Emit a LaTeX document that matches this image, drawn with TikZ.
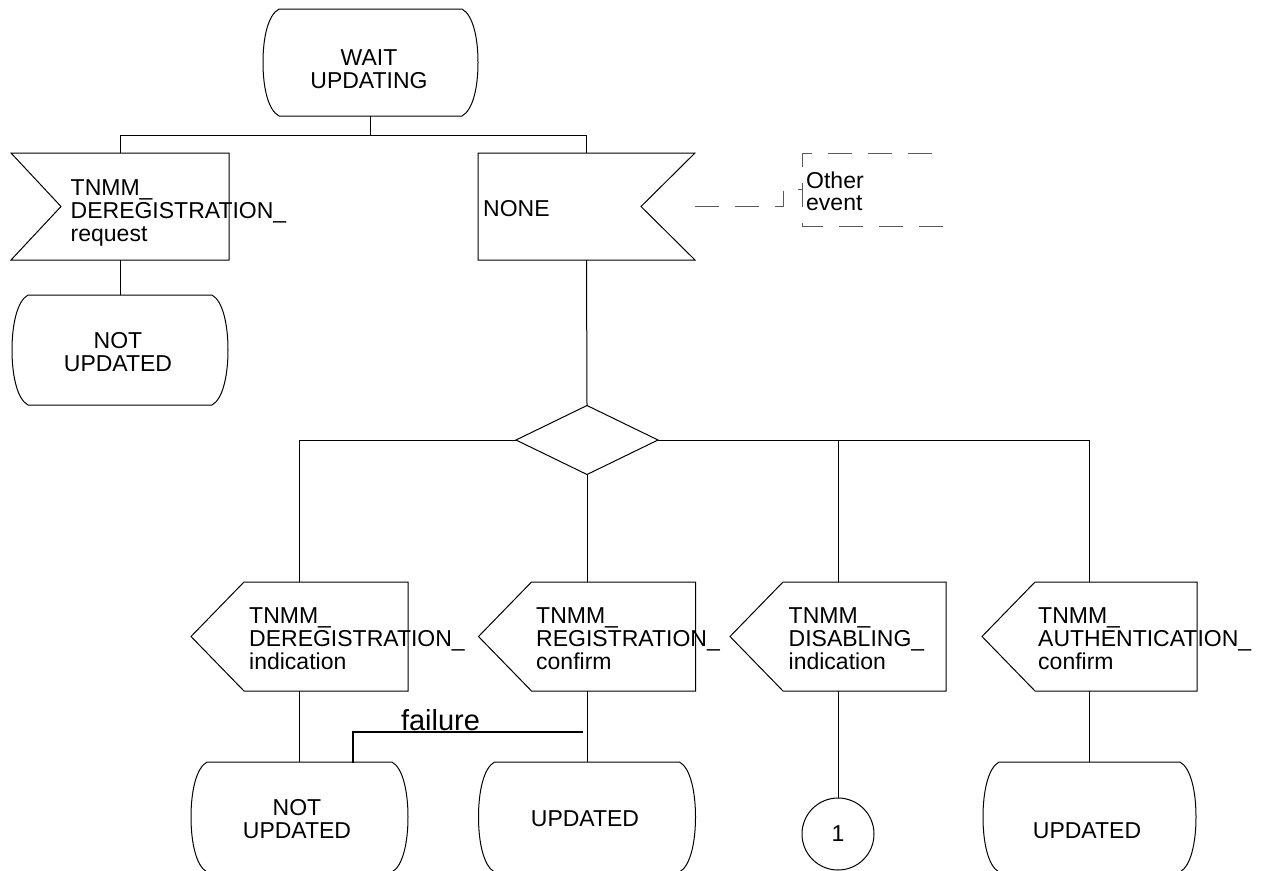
\documentclass[tikz,border=0pt]{standalone}
\usepackage{fontspec}
\setmainfont{Liberation Sans}
\usetikzlibrary{calc}
\tikzset{
  ln/.style={line width=1pt, line join=miter},
  body/.style={draw=none, inner sep=0pt, outer sep=0pt},
  lbl/.style={font=\fontsize{23pt}{23pt}\selectfont, inner sep=0pt, align=left, anchor=base west},
  clbl/.style={font=\fontsize{23pt}{23pt}\selectfont, inner sep=0pt, align=center, anchor=base},
  flbl/.style={font=\fontsize{29pt}{29pt}\selectfont, inner sep=0pt, anchor=base},
  dsh/.style={line width=1pt, draw=black!65, dash pattern=on 24pt off 16pt},
  fail/.style={line width=2.5pt},
}
\newcommand\drawstate[1]{%
  \draw[ln] ($(#1.north west)+(16,0)$) -- ($(#1.north east)+(-16,0)$)
    .. controls ($(#1.north east)+(-5,6)$) and ($(#1.east)+(0,-25)$) .. (#1.east)
    .. controls ($(#1.east)+(0,25)$) and ($(#1.south east)+(-5,-6)$) .. ($(#1.south east)+(-16,0)$)
    -- ($(#1.south west)+(16,0)$)
    .. controls ($(#1.south west)+(5,-6)$) and ($(#1.west)+(0,25)$) .. (#1.west)
    .. controls ($(#1.west)+(0,-25)$) and ($(#1.north west)+(5,6)$) .. cycle;}
\newcommand\drawinleft[2]{%
  \draw[ln] (#1.north west) -- (#1.north east) -- (#1.south east) -- (#1.south west)
    -- ($(#1.west)+(#2,0)$) -- cycle;}
\newcommand\drawinright[2]{%
  \draw[ln] (#1.north west) -- (#1.north east) -- ($(#1.east)+(-#2,0)$)
    -- (#1.south east) -- (#1.south west) -- cycle;}
\newcommand\drawout[1]{%
  \draw[ln] ($(#1.north west)+(53,0)$) -- (#1.north east) -- (#1.south east)
    -- ($(#1.south west)+(53,0)$) -- (#1.west) -- cycle;}
\begin{document}
\begin{tikzpicture}[x=1pt,y=-1pt]
\useasboundingbox (0,0) rectangle (1271,870);
\fill[white] (0,0) rectangle (1271,870);
\clip (0,0) rectangle (1271,870);

% bodies
\node[body, minimum width=215pt, minimum height=107pt] (wait) at (370.5,62.5) {};
\node[body, minimum width=218pt, minimum height=107pt] (in1) at (120,206.5) {};
\node[body, minimum width=217pt, minimum height=107pt] (in2) at (586.5,206.5) {};
\node[body, minimum width=216pt, minimum height=110pt] (st1) at (120,350) {};
\node[body, minimum width=142pt, minimum height=69pt] (dec) at (587,440) {};
\node[body, minimum width=217pt, minimum height=109pt] (out1) at (299.5,636.5) {};
\node[body, minimum width=217pt, minimum height=109pt] (out2) at (587,636.5) {};
\node[body, minimum width=216pt, minimum height=109pt] (out3) at (838,636.5) {};
\node[body, minimum width=215pt, minimum height=109pt] (out4) at (1089.5,636.5) {};
\node[body, minimum width=217pt, minimum height=110pt] (st4) at (299.5,817) {};
\node[body, minimum width=217pt, minimum height=110pt] (st5) at (587,817) {};
\node[body, minimum width=213pt, minimum height=110pt] (st6) at (1089.5,817) {};
\node[body, minimum width=143pt, minimum height=73pt] (cmt) at (873.5,189.5) {};
\node[ln, draw, circle, minimum size=72pt, inner sep=0pt,
      font=\fontsize{23pt}{23pt}\selectfont] (conn) at (838,834) {1};

% outlines
\drawstate{wait}
\drawstate{st1}
\drawstate{st4}
\drawstate{st5}
\drawstate{st6}
\drawinleft{in1}{50}
\drawinright{in2}{54}
\draw[ln] (dec.north) -- (dec.east) -- (dec.south) -- (dec.west) -- cycle;
\drawout{out1}
\drawout{out2}
\drawout{out3}
\drawout{out4}

% texts (base anchor = baseline of the last line)
\node[clbl] (twait) at (369,88.3) {WAIT\\UPDATING};
\node[lbl] (tin1) at (70.5,241) {TNMM\_\\DEREGISTRATION\_\\request};
\node[lbl] (tin2) at (483,216.7) {NONE};
\node[clbl] (tst1) at (118,371.7) {NOT\\UPDATED};
\node[lbl] (tout1) at (249,669.5) {TNMM\_\\DEREGISTRATION\_\\indication};
\node[lbl] (tout2) at (536,669.5) {TNMM\_\\REGISTRATION\_\\confirm};
\node[lbl] (tout3) at (788.5,669.5) {TNMM\_\\DISABLING\_\\indication};
\node[lbl] (tout4) at (1038,669.5) {TNMM\_\\AUTHENTICATION\_\\confirm};
\node[clbl] (tst4) at (297,838.3) {NOT\\UPDATED};
\node[clbl] (tst5) at (585,826) {UPDATED};
\node[clbl] (tst6) at (1087,838.3) {UPDATED};
\node[lbl, font=\fontsize{23pt}{21.7pt}\selectfont] (tcmt) at (806,210) {Other\\event};

% connectors
\coordinate (bus) at (370.5,135);
\draw[ln] (wait.south) -- (bus);
\draw[ln] (in1.north) -- (in1.north |- bus) -- (in2.north |- bus) -- (in2.north);
\draw[ln] (in1.south) -- (in1.south |- st1.north);
\draw[ln] (in2.south) -- (dec.north);
\draw[ln] (dec.west) -- (dec.west -| out1.north) -- (out1.north);
\draw[ln] (dec.east) -- (dec.east -| out4.north) -- (out4.north);
\draw[ln] (out3.north |- dec.east) -- (out3.north);
\draw[ln] (dec.south) -- (out2.north);
\draw[ln] (out1.south) -- (out1.south |- st4.north);
\draw[ln] (out2.south) -- (out2.south |- st5.north);
\draw[ln] (out3.south) -- (conn.north);
\draw[ln] (out4.south) -- (out4.south |- st6.north);

% failure branch
\coordinate (fend) at (583,732);
\draw[fail] (fend) -| ($(st4.north)+(53.5,1)$);
\node[flbl] (tfail) at (440.5,730) {failure};

% comment
\coordinate (ca) at (783,189.5);
\draw[dsh] (in2.east) -- (in2.east -| ca) -- (ca) -- (cmt.west);
\draw[dsh] ($(cmt.north east)+(-13,0)$) -- (cmt.north west) -- (cmt.south west) -- (cmt.south east);
\end{tikzpicture}
\end{document}
